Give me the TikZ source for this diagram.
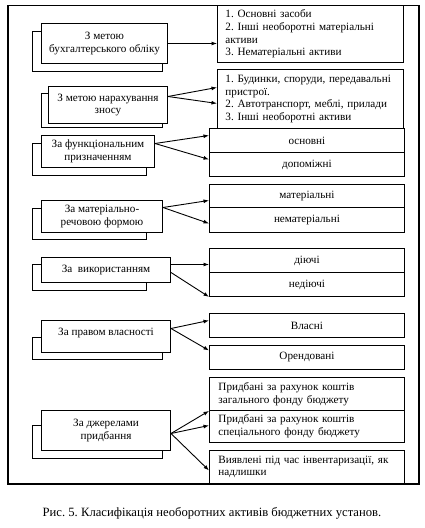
\documentclass[tikz,border=0pt]{standalone}
\usepackage{fontspec}
\setmainfont{Liberation Serif}
\usetikzlibrary{arrows.meta}
\begin{document}
\frenchspacing
\begin{tikzpicture}[x=1bp,y=-1bp,
  txt/.style={font=\fontsize{11.2}{12.8}\selectfont},
  frm/.style={draw,line width=1.5bp,inner sep=0pt,anchor=north west},
  shbox/.style={draw,line width=1bp,fill=white,inner sep=0pt,anchor=north west},
  lbox/.style={draw,line width=1bp,fill=white,inner sep=0pt,anchor=north west,align=center,txt},
  cbox/.style={draw,line width=0.9bp,fill=white,inner sep=0pt,anchor=north west,align=center,txt,minimum width=195bp},
  rbox/.style={draw,line width=0.9bp,fill=white,inner xsep=8bp,inner ysep=0pt,anchor=north west,align=left,txt},
  arr/.style={line width=0.9bp,-{Latex[length=5.5bp,width=4bp]}}
]
\useasboundingbox (0,0) rectangle (424,528);
\node[frm,minimum width=411bp,minimum height=478bp] (frame) at (7,5) {};

% group 1
\node[shbox,minimum width=130bp,minimum height=40bp] (s1) at (32,31) {};
\node[lbox,minimum width=126bp,minimum height=40bp] (l1) at (41,23) {З метою\\бухгалтерського обліку};
\node[rbox,text width=170bp,minimum height=57bp] (r1) at (217,5) {1. Основні засоби\\2. Інші необоротні матеріальні\\активи\\3. Нематеріальні активи};
\draw[arr] (l1.east) -- (l1.east -| r1.west);

% group 2
\node[shbox,minimum width=121bp,minimum height=34bp] (s2) at (41,93) {};
\node[lbox,minimum width=119bp,minimum height=37bp] (l2) at (48,86) {З метою нарахування\\зносу};
\node[rbox,text width=170bp,minimum height=59bp] (r2) at (217,69) {1. Будинки, споруди, передавальні\\пристрої.\\2. Автотранспорт, меблі, прилади\\3. Інші необоротні активи};
\draw[arr] ([yshift=8.5bp]l2.east) -- ([yshift=11.5bp]r2.west);
\draw[arr] ([yshift=8.5bp]l2.east) -- ([yshift=-4.5bp]r2.west);

% group 3
\node[shbox,minimum width=114bp,minimum height=32bp] (s3) at (32,143) {};
\node[lbox,minimum width=113bp,minimum height=32bp] (l3) at (41,135) {За функціональним\\призначенням};
\node[cbox,minimum height=24bp] (r3a) at (209,128) {основні};
\node[cbox,minimum height=24bp] (r3b) at (209,152) {допоміжні};
\draw[arr] ([yshift=8bp]l3.east) -- ([yshift=5bp]r3a.west);
\draw[arr] ([yshift=8bp]l3.east) -- ([yshift=5bp]r3b.west);

% group 4
\node[shbox,minimum width=114bp,minimum height=31bp] (s4) at (32,208) {};
\node[lbox,minimum width=121bp,minimum height=32bp] (l4) at (41,200) {За матеріально-\\речовою формою};
\node[cbox,minimum height=23bp] (r4a) at (209,184) {матеріальні};
\node[cbox,minimum height=25bp] (r4b) at (209,207) {нематеріальні};
\draw[arr] ([yshift=9bp]l4.east) -- ([yshift=-4.5bp]r4a.west);
\draw[arr] ([yshift=9bp]l4.east) -- ([yshift=-3.5bp]r4b.west);

% group 5
\node[shbox,minimum width=114bp,minimum height=26bp] (s5) at (32,264) {};
\node[lbox,minimum width=129bp,minimum height=25bp] (l5) at (41,257) {За \ використанням};
\node[cbox,minimum height=24bp] (r5a) at (209,248) {діючі};
\node[cbox,minimum height=24bp] (r5b) at (209,272) {недіючі};
\draw[arr] ([yshift=5.5bp]l5.east) -- ([yshift=5.5bp]l5.east -| r5a.west);
\draw[arr] ([yshift=-2.5bp]l5.east) -- (r5b.south west);

% group 6
\node[shbox,minimum width=130bp,minimum height=22bp] (s6) at (32,337) {};
\node[lbox,minimum width=129bp,minimum height=32bp] (l6) at (41,320) {За правом власності\\[-3bp]\mbox{}};
\node[cbox,minimum height=24bp] (r6a) at (209,313) {Власні};
\node[cbox,minimum height=24bp] (r6b) at (209,345) {Орендовані};
\draw[arr] ([yshift=8bp]l6.east) -- ([yshift=5bp]r6a.west);
\draw[arr] ([yshift=8bp]l6.east) -- ([yshift=7bp]r6b.west);

% group 7
\node[shbox,minimum width=130bp,minimum height=33bp] (s7) at (32,425) {};
\node[lbox,minimum width=129bp,minimum height=40bp] (l7) at (41,410) {За джерелами\\придбання};
\node[rbox,inner xsep=9bp,text width=177bp,minimum height=33bp] (r7a) at (209,377) {Придбані за рахунок коштів\\загального фонду бюджету};
\node[rbox,inner xsep=9bp,text width=177bp,minimum height=32bp] (r7b) at (209,410) {Придбані за рахунок коштів\\спеціального фонду бюджету};
\node[rbox,inner xsep=9bp,text width=177bp,minimum height=33bp] (r7c) at (209,450) {Виявлені під час інвентаризації, як\\надлишки};
\draw[arr] ([yshift=-3bp]l7.east) -- (r7a.south west);
\draw[arr] ([yshift=-3bp]l7.east) -- ([yshift=1bp]r7b.west);
\draw[arr] ([yshift=-3bp]l7.east) -- ([yshift=-3.5bp]r7c.west);

% caption
\node[font=\fontsize{12.7}{15}\selectfont,inner sep=0pt] (cap) at (212,513) {Рис. 5. Класифікація необоротних активів бюджетних установ.};
\end{tikzpicture}
\end{document}
